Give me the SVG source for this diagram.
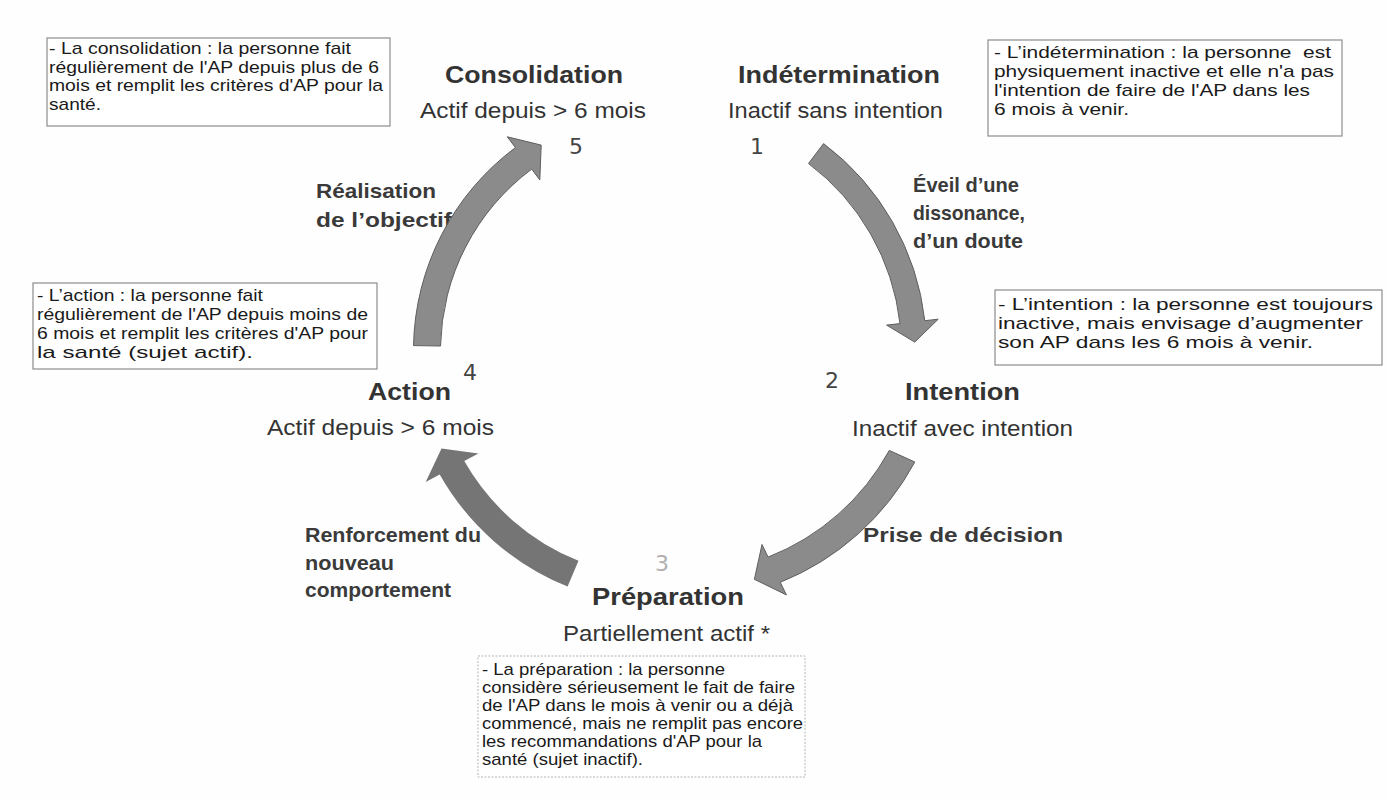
<svg xmlns="http://www.w3.org/2000/svg" width="1387" height="800" viewBox="0 0 1387 800">
<style>
.bg{fill:#fefefe}
.box{fill:#fff;stroke:#8c8c8c;stroke-width:1.2}
.boxd{fill:#fff;stroke:#b4b4b4;stroke-width:1;stroke-dasharray:2 1.5}
.bt{font-family:"Liberation Sans",Arial,sans-serif;font-size:17px;fill:#1a1a1a}
.title{font-family:"Liberation Sans",Arial,sans-serif;font-weight:bold;font-size:24px;fill:#333}
.sub{font-family:"Liberation Sans",Arial,sans-serif;font-size:22px;fill:#333}
.num{font-family:"DejaVu Sans",sans-serif;font-size:22px;fill:#444;text-anchor:middle}
.num3{font-family:"DejaVu Sans",sans-serif;font-size:22px;fill:#b0b0b0;text-anchor:middle}
.lbl{font-family:"Liberation Sans",Arial,sans-serif;font-weight:bold;font-size:21px;fill:#3a3a3a}
.arr{fill:#8b8b8b;stroke:#5e5e5e;stroke-width:1}
.arrd{fill:#757575;stroke:none}
</style>
<rect class="bg" x="0" y="0" width="1387" height="800"/>

<g id="desc-consolidation">
<rect class="box" x="47" y="38" width="343" height="88"/>
<text class="bt" x="49" y="54" textLength="302" lengthAdjust="spacingAndGlyphs">- La consolidation : la personne fait</text>
<text class="bt" x="49" y="72.5" textLength="330" lengthAdjust="spacingAndGlyphs">régulièrement de l'AP depuis plus de 6</text>
<text class="bt" x="49" y="91" textLength="334" lengthAdjust="spacingAndGlyphs">mois et remplit les critères d'AP pour la</text>
<text class="bt" x="49" y="109.5" textLength="52" lengthAdjust="spacingAndGlyphs">santé.</text>
</g>

<g id="desc-indetermination">
<rect class="box" x="988" y="40" width="354" height="96"/>
<text class="bt" x="994" y="58" textLength="337" lengthAdjust="spacingAndGlyphs" xml:space="preserve">- L’indétermination : la personne  est</text>
<text class="bt" x="994" y="77" textLength="340" lengthAdjust="spacingAndGlyphs">physiquement inactive et elle n'a pas</text>
<text class="bt" x="994" y="96" textLength="316" lengthAdjust="spacingAndGlyphs">l'intention de faire de l'AP dans les</text>
<text class="bt" x="994" y="115" textLength="135" lengthAdjust="spacingAndGlyphs">6 mois à venir.</text>
</g>

<g id="desc-intention">
<rect class="box" x="995" y="290" width="387" height="75"/>
<text class="bt" x="998" y="310" textLength="375" lengthAdjust="spacingAndGlyphs">- L’intention : la personne est toujours</text>
<text class="bt" x="998" y="329" textLength="365" lengthAdjust="spacingAndGlyphs">inactive, mais envisage d’augmenter</text>
<text class="bt" x="998" y="348" textLength="315" lengthAdjust="spacingAndGlyphs">son AP dans les 6 mois à venir.</text>
</g>

<g id="desc-action">
<rect class="box" x="33" y="283" width="344" height="86"/>
<text class="bt" x="37" y="301" textLength="226" lengthAdjust="spacingAndGlyphs">- L’action : la personne fait</text>
<text class="bt" x="37" y="320" textLength="331" lengthAdjust="spacingAndGlyphs">régulièrement de l'AP depuis moins de</text>
<text class="bt" x="37" y="339" textLength="331" lengthAdjust="spacingAndGlyphs">6 mois et remplit les critères d'AP pour</text>
<text class="bt" x="37" y="358" textLength="216" lengthAdjust="spacingAndGlyphs">la santé (sujet actif).</text>
</g>

<g id="desc-preparation">
<rect class="boxd" x="478" y="656" width="327" height="121"/>
<text class="bt" x="482" y="675" textLength="243" lengthAdjust="spacingAndGlyphs">- La préparation : la personne</text>
<text class="bt" x="482" y="693" textLength="313" lengthAdjust="spacingAndGlyphs">considère sérieusement le fait de faire</text>
<text class="bt" x="482" y="711" textLength="311" lengthAdjust="spacingAndGlyphs">de l'AP dans le mois à venir ou a déjà</text>
<text class="bt" x="482" y="729" textLength="321" lengthAdjust="spacingAndGlyphs">commencé, mais ne remplit pas encore</text>
<text class="bt" x="482" y="747" textLength="280" lengthAdjust="spacingAndGlyphs">les recommandations d'AP pour la</text>
<text class="bt" x="482" y="765" textLength="161" lengthAdjust="spacingAndGlyphs">santé (sujet inactif).</text>
</g>

<g id="stage-5">
<text class="title" x="445" y="83" textLength="178" lengthAdjust="spacingAndGlyphs">Consolidation</text>
<text class="sub" x="420" y="118" textLength="226" lengthAdjust="spacingAndGlyphs">Actif depuis &gt; 6 mois</text>
<text class="num" x="576" y="154">5</text>
</g>

<g id="stage-1">
<text class="title" x="738" y="83" textLength="202" lengthAdjust="spacingAndGlyphs">Indétermination</text>
<text class="sub" x="728" y="118" textLength="215" lengthAdjust="spacingAndGlyphs">Inactif sans intention</text>
<text class="num" x="757" y="154">1</text>
</g>

<g id="stage-2">
<text class="num" x="832" y="388">2</text>
<text class="title" x="905" y="400" textLength="115" lengthAdjust="spacingAndGlyphs">Intention</text>
<text class="sub" x="852" y="436" textLength="221" lengthAdjust="spacingAndGlyphs">Inactif avec intention</text>
</g>

<g id="stage-4">
<text class="num" x="470" y="380">4</text>
<text class="title" x="368" y="400" textLength="83" lengthAdjust="spacingAndGlyphs">Action</text>
<text class="sub" x="267" y="435" textLength="227" lengthAdjust="spacingAndGlyphs">Actif depuis &gt; 6 mois</text>
</g>

<g id="stage-3">
<text class="num3" x="662" y="571">3</text>
<text class="title" x="592" y="605" textLength="152" lengthAdjust="spacingAndGlyphs">Préparation</text>
<text class="sub" x="563" y="641" textLength="207" lengthAdjust="spacingAndGlyphs">Partiellement actif *</text>
</g>

<g id="connectors">
<g id="connector-labels">
<text class="lbl" x="913" y="192" textLength="106" lengthAdjust="spacingAndGlyphs">Éveil d’une</text>
<text class="lbl" x="913" y="220" textLength="112" lengthAdjust="spacingAndGlyphs">dissonance,</text>
<text class="lbl" x="913" y="248" textLength="110" lengthAdjust="spacingAndGlyphs">d’un doute</text>
<text class="lbl" x="316" y="198" textLength="120" lengthAdjust="spacingAndGlyphs">Réalisation</text>
<text class="lbl" x="316" y="227" textLength="136" lengthAdjust="spacingAndGlyphs">de l’objectif</text>
<text class="lbl" x="305" y="542" textLength="176" lengthAdjust="spacingAndGlyphs">Renforcement du</text>
<text class="lbl" x="305" y="570" textLength="89" lengthAdjust="spacingAndGlyphs">nouveau</text>
<text class="lbl" x="305" y="597" textLength="146" lengthAdjust="spacingAndGlyphs">comportement</text>
<text class="lbl" x="863" y="542" textLength="200" lengthAdjust="spacingAndGlyphs">Prise de décision</text>
</g>
<path id="arrow-4-5" class="arr" d="M413.5,345.6 A253.5,253.5 0 0 1 515.4,147.6 L507.3,136.8 L541.2,145.1 L539.8,179.9 L531.7,169.1 A226.5,226.5 0 0 0 440.5,346 Z"/>
<path id="arrow-1-2" class="arr" d="M823.6,143.6 A258.5,258.5 0 0 1 924.8,320.7 L938.2,319.2 L914.7,342.1 L886.6,325.1 L900,323.6 A233.5,233.5 0 0 0 808.5,163.5 Z"/>
<path id="arrow-2-3" class="arr" d="M914.8,462 A265,265 0 0 1 780.3,582.3 L786.4,594.9 L754.4,579.3 L762,544.5 L768.1,557.1 A237,237 0 0 0 889.3,450.4 Z"/>
<path id="arrow-3-4" class="arrd" d="M567.6,586.6 A258,258 0 0 1 439.7,474.5 L425.7,482.1 L441.5,448.5 L478.4,453.4 L464.3,461.1 A230,230 0 0 0 578.5,560.8 Z"/>
</g>
</svg>
